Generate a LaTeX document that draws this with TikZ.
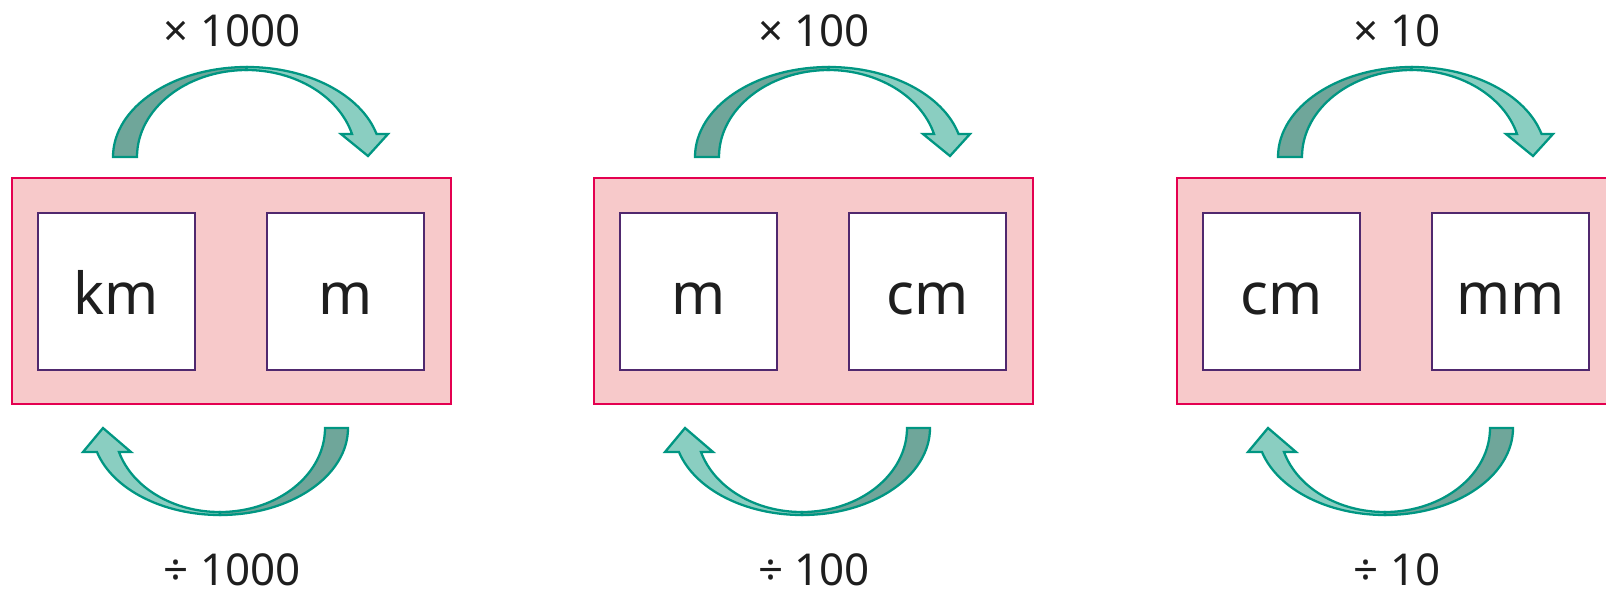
\documentclass[tikz,border=0pt]{standalone}
\usepackage{fontspec}
\setmainfont{Noto Sans}

\definecolor{panelfill}{RGB}{247,201,202}
\definecolor{panelline}{RGB}{228,0,80}
\definecolor{boxline}{RGB}{80,40,110}
\definecolor{arrowdark}{RGB}{111,166,154}
\definecolor{arrowlight}{RGB}{138,206,193}
\definecolor{arrowline}{RGB}{0,150,130}
\definecolor{labeltext}{RGB}{30,30,30}

\begin{document}
\begin{tikzpicture}[x=0.02cm, y=0.02cm,
    panel/.style={draw=panelline, fill=panelfill, line width=1.4pt,
      minimum width=8.78cm, minimum height=4.52cm, inner sep=0pt},
    unitbox/.style={draw=boxline, fill=white, line width=1.4pt,
      minimum size=3.14cm, inner sep=0pt, text height=0.9cm, text depth=0pt,
      text=labeltext, font=\fontsize{33}{36}\selectfont},
    factor/.style={anchor=base, inner sep=0pt, text depth=0pt, text=labeltext,
      font=\fontsize{25}{28}\selectfont},
    darkpart/.style={fill=arrowdark, draw=arrowline, line width=1.3pt},
    lightpart/.style={fill=arrowlight, draw=arrowline, line width=1.3pt}]

    \useasboundingbox (0,0) rectangle (1606,-599);
    \clip (0,0) rectangle (1606,-599);

    \foreach \i/\dx/\lu/\ru/\num in {1/0/km/m/1000, 2/582/m/cm/100, 3/1165/cm/mm/10} {
      \begin{scope}[shift={(\dx,0)}]
        % pink panel with the two units
        \node[panel] (panel\i) at (231.5,-291) {};
        \node[unitbox] (left\i) at (116.5,-291.5) {\lu};
        \node[unitbox] (right\i) at (345.5,-291.5) {\ru};

        % multiply arrow over the top
        \draw[darkpart] (113,-157) arc[start angle=180, end angle=90, x radius=134, y radius=90]
          -- (247,-70) arc[start angle=90, end angle=180, x radius=110, y radius=87] -- cycle;
        \draw[lightpart] (247,-67) arc[start angle=90, end angle=14.8, x radius=134, y radius=90]
          -- (388,-134) -- (368,-156) -- (341,-134) -- (352,-134)
          arc[start angle=15.3, end angle=90, x radius=110, y radius=87] -- cycle;

        % divide arrow underneath
        \draw[darkpart] (348,-428) arc[start angle=0, end angle=-90, x radius=128, y radius=87]
          -- (220,-512) arc[start angle=-90, end angle=0, x radius=105, y radius=84] -- cycle;
        \draw[lightpart] (220,-515) arc[start angle=-90, end angle=-164, x radius=128, y radius=87]
          -- (83,-452) -- (103,-428) -- (131,-452) -- (119,-452)
          arc[start angle=-163.4, end angle=-90, x radius=105, y radius=84] -- cycle;

        \node[factor] (times\i) at (232,-46) {× \num};
        \node[factor] (div\i) at (232,-585) {÷ \num};
      \end{scope}
    }
\end{tikzpicture}
\end{document}
